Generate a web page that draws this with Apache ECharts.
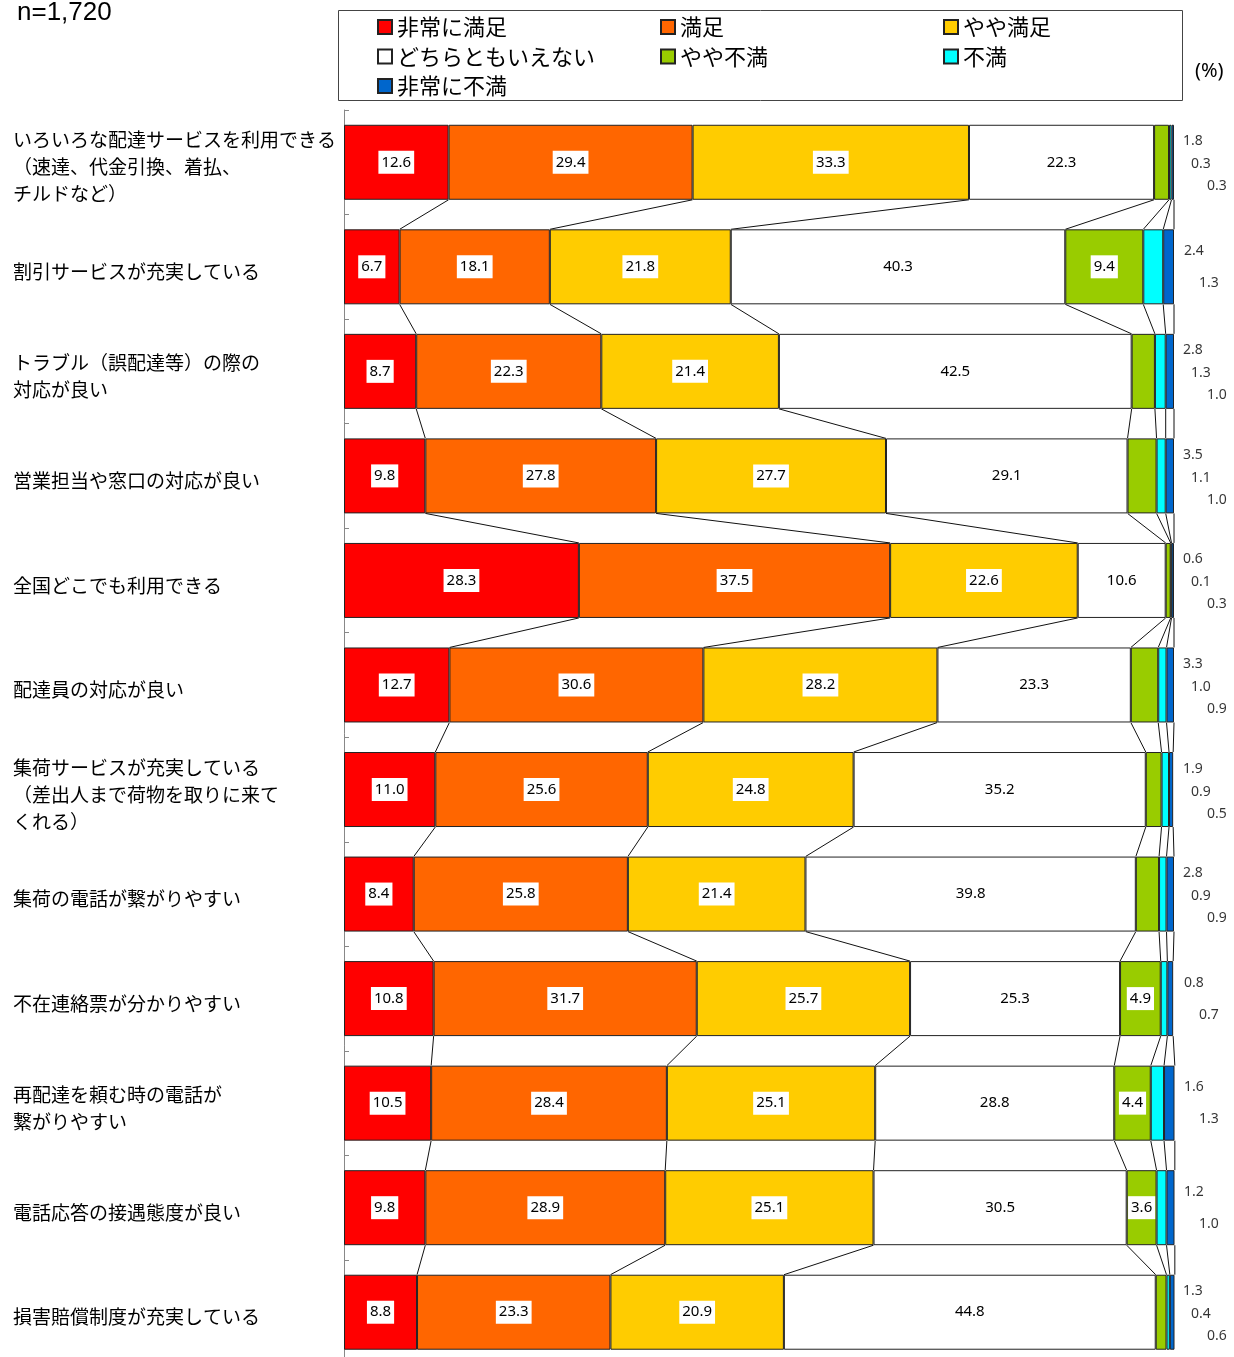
<!DOCTYPE html>
<html>
<head>
<meta charset="utf-8">
<title>宅配便サービスの満足度</title>
<script src="https://cdn.jsdelivr.net/npm/echarts@6/dist/echarts.min.js"></script>
<style>
  html, body { margin: 0; padding: 0; background: #fff; }
  #chart { width: 1234px; height: 1357px; }
</style>
</head>
<body>
<div id="chart"></div>
<script>
// Survey items (top to bottom)
const categories = [
  'いろいろな配達サービスを利用できる\n（速達、代金引換、着払、\nチルドなど）',
  '割引サービスが充実している',
  'トラブル（誤配達等）の際の\n対応が良い',
  '営業担当や窓口の対応が良い',
  '全国どこでも利用できる',
  '配達員の対応が良い',
  '集荷サービスが充実している\n（差出人まで荷物を取りに来て\nくれる）',
  '集荷の電話が繋がりやすい',
  '不在連絡票が分かりやすい',
  '再配達を頼む時の電話が\n繋がりやすい',
  '電話応答の接遇態度が良い',
  '損害賠償制度が充実している'
];

const seriesNames = ['非常に満足', '満足', 'やや満足', 'どちらともいえない', 'やや不満', '不満', '非常に不満'];

// Shares in percent, one array per answer
const veryGood    = [12.6, 6.7, 8.7, 9.8, 28.3, 12.7, 11.0, 8.4, 10.8, 10.5, 9.8, 8.8];
const good        = [29.4, 18.1, 22.3, 27.8, 37.5, 30.6, 25.6, 25.8, 31.7, 28.4, 28.9, 23.3];
const fair        = [33.3, 21.8, 21.4, 27.7, 22.6, 28.2, 24.8, 21.4, 25.7, 25.1, 25.1, 20.9];
const neutral     = [22.3, 40.3, 42.5, 29.1, 10.6, 23.3, 35.2, 39.8, 25.3, 28.8, 30.5, 44.8];
const slightlyBad = [1.8, 9.4, 2.8, 3.5, 0.6, 3.3, 1.9, 2.8, 4.9, 4.4, 3.6, 1.3];
const bad         = [0.3, 2.4, 1.3, 1.1, 0.1, 1.0, 0.9, 0.9, 0.8, 1.6, 1.2, 0.4];
const veryBad     = [0.3, 1.3, 1.0, 1.0, 0.3, 0.9, 0.5, 0.9, 0.7, 1.3, 1.0, 0.6];

const sampleNote = 'n=1,720';
const unitNote = '(%)';

const allSeries = [veryGood, good, fair, neutral, slightlyBad, bad, veryBad];
const colors = ['#FF0000', '#FF6600', '#FFCC00', '#FFFFFF', '#99CC00', '#00FFFF', '#0066CC'];

const BAR = 75;           // bar thickness in px
const INSIDE_MIN = 3.6;   // smaller shares are labelled beside the bar end
const numFont = 'Noto Sans';
const jpFont = 'Noto Sans CJK JP';

// running totals per row, used for the connector lines
const cumulative = categories.map((_, r) => {
  let s = 0;
  return allSeries.map(arr => (s += arr[r]));
});

// small shares written to the right of each bar, staggered downward
const offsetsByCount = {
  1: [[9, 0]],
  2: [[9, -16], [24, 16]],
  3: [[8, -21], [16, 2], [32, 24]]
};
const sideNotes = [];
categories.forEach((_, r) => {
  const vals = [slightlyBad[r], bad[r], veryBad[r]].filter(v => v < INSIDE_MIN);
  const offs = offsetsByCount[vals.length] || [];
  vals.forEach((v, j) => {
    sideNotes.push({ value: [100, r, v], label: { offset: offs[j] } });
  });
});

const barSeries = allSeries.map((arr, k) => ({
  name: seriesNames[k],
  type: 'bar',
  stack: 'total',
  barWidth: BAR,
  itemStyle: { color: colors[k], borderColor: '#222', borderWidth: 1 },
  label: {
    show: true,
    position: 'inside',
    color: '#000',
    fontFamily: numFont,
    fontSize: 15,
    backgroundColor: '#fff',
    padding: [4, 3],
    formatter: p => p.value.toFixed(1)
  },
  data: arr.map(v => ({ value: v, label: { show: v >= INSIDE_MIN } }))
}));

// lines joining each segment boundary from one bar to the next
const connectorSeries = {
  type: 'custom',
  silent: true,
  clip: false,
  z: 1,
  data: categories.slice(0, -1).map((_, r) => [0, r]),
  renderItem: (params, api) => {
    const r = api.value(1);
    const children = cumulative[r].map((c, k) => {
      const a = api.coord([c, r]);
      const b = api.coord([cumulative[r + 1][k], r + 1]);
      return {
        type: 'line',
        shape: { x1: a[0], y1: a[1] + BAR / 2, x2: b[0], y2: b[1] - BAR / 2 },
        style: { stroke: '#111', lineWidth: 1 }
      };
    });
    return { type: 'group', children };
  }
};

const notesSeries = {
  type: 'scatter',
  symbolSize: 0,
  silent: true,
  clip: false,
  z: 5,
  label: {
    show: true,
    position: 'right',
    distance: 0,
    color: '#000',
    fontFamily: numFont,
    fontSize: 14,
    backgroundColor: '#fff',
    padding: [1, 1],
    formatter: p => p.value[2].toFixed(1)
  },
  data: sideNotes
};

const chart = echarts.init(document.getElementById('chart'), null, { renderer: 'canvas' });
chart.setOption({
  animation: false,
  backgroundColor: '#fff',
  grid: { left: 344, top: 110, width: 830, height: 1254.5, outerBoundsMode: 'none', containLabel: false },
  legend: {
    data: seriesNames,
    left: 377,
    top: 16,
    width: 845,
    padding: 0,
    icon: 'rect',
    itemWidth: 14,
    itemHeight: 14,
    itemGap: 7.5,
    textStyle: { fontFamily: jpFont, fontSize: 22, color: '#000', width: 255.5, lineHeight: 21 }
  },
  xAxis: { type: 'value', min: 0, max: 100, show: false },
  yAxis: {
    type: 'category',
    inverse: true,
    data: categories,
    axisLine: { show: true, lineStyle: { color: '#888', width: 1 } },
    axisTick: { show: true, inside: true, length: 5, lineStyle: { color: '#888' } },
    axisLabel: {
      align: 'left',
      margin: 331,
      // a thin spacer line on top nudges each block slightly below the bar centre
      formatter: v => '{gap| }\n' + v.split('\n').map(s => '{t|' + s + '}').join('\n'),
      rich: {
        gap: { fontSize: 1, lineHeight: 10, height: 10 },
        t: { fontFamily: jpFont, fontSize: 19, lineHeight: 27, color: '#000' }
      }
    },
    splitLine: { show: false }
  },
  graphic: [
    {
      type: 'rect',
      shape: { x: 338.5, y: 10.5, width: 844, height: 90 },
      style: { fill: 'none', stroke: '#444', lineWidth: 1 },
      z: 0
    },
    {
      type: 'text',
      left: 17,
      top: 0,
      style: { text: sampleNote, fontFamily: 'Liberation Sans', fontSize: 26, fill: '#000' }
    },
    {
      type: 'text',
      left: 1195,
      top: 61,
      style: { text: unitNote, fontFamily: numFont, fontSize: 20, fill: '#000' }
    }
  ],
  series: [...barSeries, connectorSeries, notesSeries]
});
</script>
</body>
</html>
